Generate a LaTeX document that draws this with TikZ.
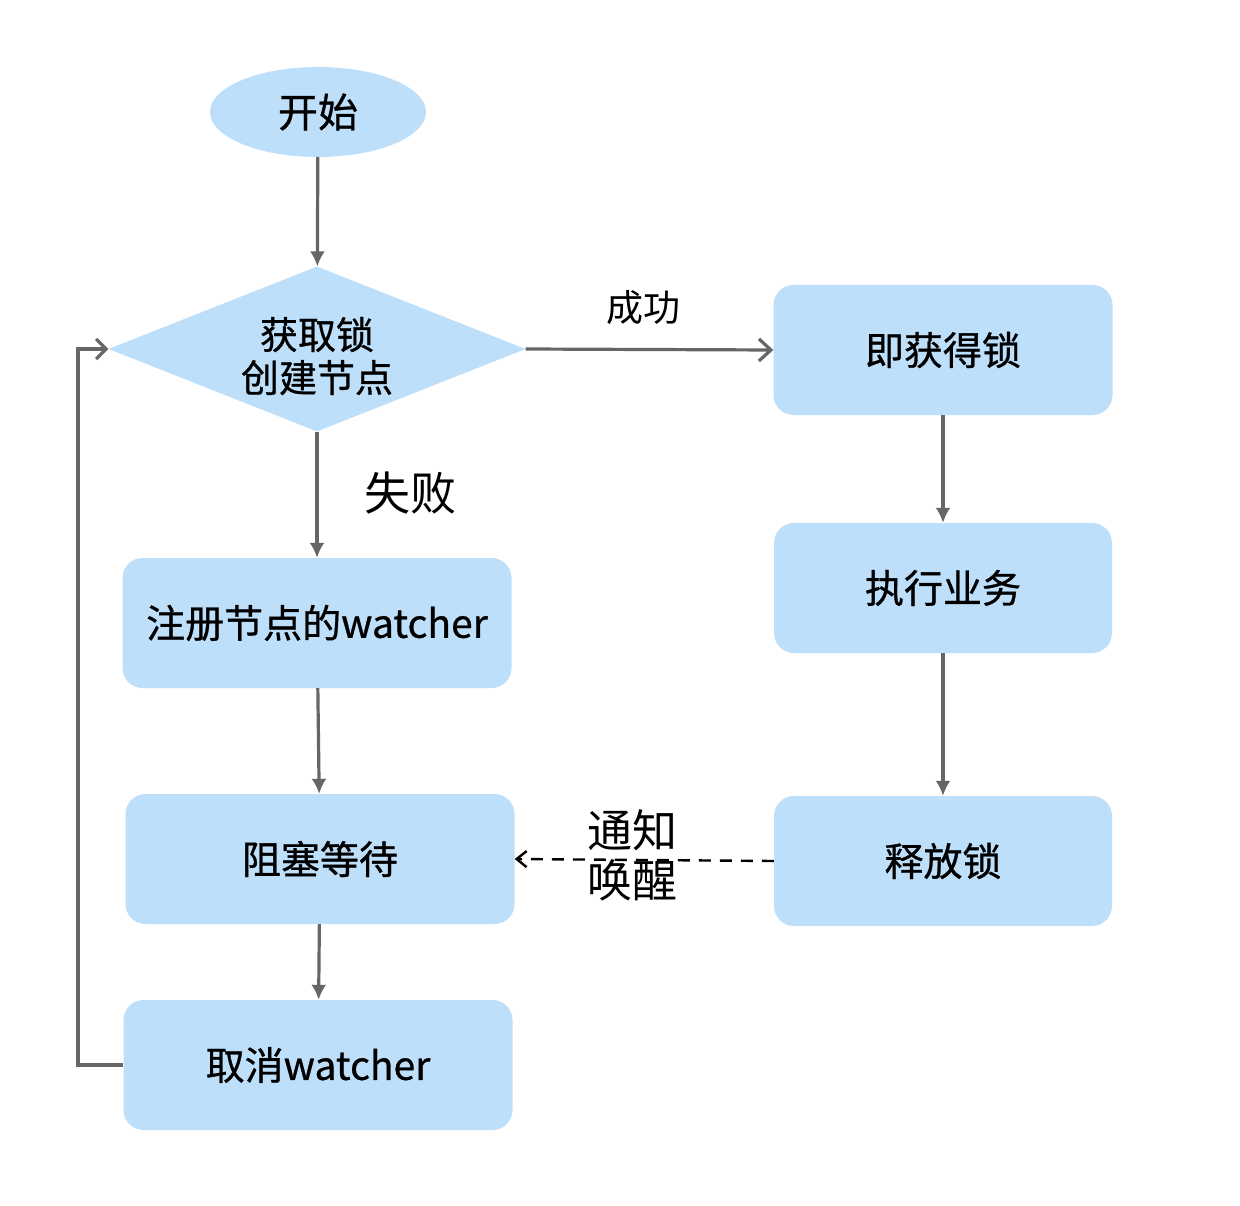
\documentclass[tikz,border=0pt]{standalone}
\usepackage{fontspec}
\setmainfont{Noto Sans CJK SC}
\newfontfamily\boxfont{Noto Sans CJK SC}[FakeBold=0.8]
\usetikzlibrary{shapes.geometric,arrows.meta}
\definecolor{boxblue}{HTML}{BEDFFA}
\definecolor{arrgray}{HTML}{666666}
\tikzset{
  procbox/.style={fill=boxblue, draw=none, rounded corners=20pt, minimum width=#1, minimum height=130pt, inner sep=0pt, font=\boxfont\fontsize{39}{44}\selectfont},
  conn/.style={draw=arrgray, line width=3.2pt, -{Latex[length=15pt,width=15pt]}},
  lbl/.style={inner sep=0pt}
}
\begin{document}
\begin{tikzpicture}[x=1pt,y=-1pt]
\useasboundingbox (0,0) rectangle (1240,1206);
\fill[white] (0,0) rectangle (1240,1206);
\node[ellipse, fill=boxblue, minimum width=216pt, minimum height=90pt, inner sep=0pt, font=\boxfont\fontsize{40}{44}\selectfont] (start) at (318,112) {开始};
\node[diamond, fill=boxblue, minimum width=417pt, minimum height=165pt, inner sep=0pt, aspect=2.5,
  label={[name=dectext, align=center, inner sep=0pt, yshift=-7pt, font=\boxfont\fontsize{38}{43}\selectfont]center:获取锁\\创建节点}] (dec) at (317,349) {};
\node[procbox=339pt] (got) at (943,350) {即获得锁};
\node[procbox=338pt] (exec) at (943,588) {执行业务};
\node[procbox=338pt] (rel) at (943,861) {释放锁};
\node[procbox=389pt] (reg) at (317,623) {注册节点的watcher};
\node[procbox=389pt] (wait) at (320,859) {阻塞等待};
\node[procbox=389pt] (cancel) at (318,1065) {取消watcher};
\coordinate (c1) at (78,1065);
\coordinate (c2) at (78,349);

\draw[conn] (start) -- (dec);
\draw[conn, -{Straight Barb[length=12pt,width=22pt]}] (dec.east) -- (got.west);
\draw[conn] (dec.south) -- (reg.north);
\draw[conn] (reg) -- (wait);
\draw[conn] (wait) -- (cancel);
\draw[conn] (got) -- (exec);
\draw[conn] (exec) -- (rel);
\draw[conn, -{Straight Barb[length=10pt,width=20pt]}] (cancel.west) -- (c1) -- (c2) -- (dec.west);
\draw[draw=black, line width=2.4pt, dash pattern=on 12pt off 9pt, -{Straight Barb[length=10pt,width=16pt]}] (rel.west) -- (wait.east);

\node[lbl, font=\fontsize{37}{42}\selectfont] (succ) at (643,308) {成功};
\node[lbl, font=\fontsize{46}{50}\selectfont] (fail) at (410,493) {失败};
\node[lbl, align=center, font=\fontsize{45}{50}\selectfont] (notify) at (632,855) {通知\\唤醒};
\end{tikzpicture}
\end{document}
